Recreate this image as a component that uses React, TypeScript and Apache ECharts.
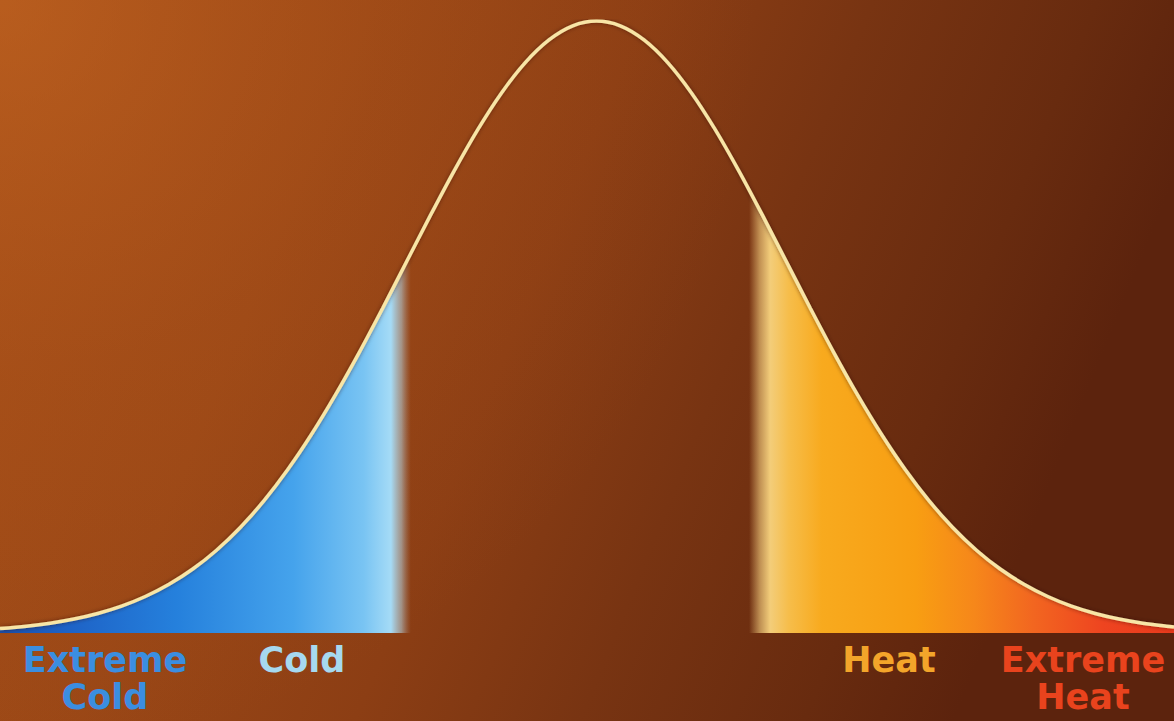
import React, { useEffect, useRef } from "react";
import * as echarts from "echarts";

// Standardized temperature (in standard deviations from the mean)
const xValues = [
  -3.14, -3, -2.875, -2.75, -2.625, -2.5, -2.375, -2.25, -2.125, -2, -1.875, -1.75, -1.625, -1.5, -1.375, -1.25, -1.125, -1,
  -0.875, -0.75, -0.625, -0.5, -0.375, -0.25, -0.125, 0, 0.125, 0.25, 0.375, 0.5, 0.625, 0.75, 0.875,
  1, 1.125, 1.25, 1.375, 1.5, 1.625, 1.75, 1.875, 2, 2.125, 2.25, 2.375, 2.5, 2.625, 2.75, 2.875, 3, 3.04,
];
// Relative frequency (peak = 1)
const frequency = [
  0.0072, 0.0111, 0.016, 0.0228, 0.0319, 0.0439, 0.0596, 0.0796, 0.1046, 0.1353, 0.1724, 0.2163, 0.2671, 0.3247, 0.3886, 0.4578, 0.5311, 0.6065,
  0.6819, 0.7548, 0.8226, 0.8825, 0.9321, 0.9692, 0.9922, 1.0, 0.9922, 0.9692, 0.9321, 0.8825, 0.8226, 0.7548, 0.6819,
  0.6065, 0.5311, 0.4578, 0.3886, 0.3247, 0.2671, 0.2163, 0.1724, 0.1353, 0.1046, 0.0796, 0.0596, 0.0439, 0.0319, 0.0228, 0.016, 0.0111, 0.0099,
];

const labels = [
  { text: "Extreme\nCold", x: 105, color: "#3b8ee0" },
  { text: "Cold", x: 302, color: "#a6d9ef" },
  { text: "Heat", x: 889, color: "#f3a52a" },
  { text: "Extreme\nHeat", x: 1083, color: "#e9431d" },
];

export default function App() {
  const ref = useRef<HTMLDivElement>(null);
  useEffect(() => {
    if (!ref.current) return;
    const chart = echarts.init(ref.current, undefined, { renderer: "svg" });
    const data = xValues.map((x, i) => [x, frequency[i]]);
    chart.setOption({
      animation: false,
      backgroundColor: {
        type: "linear", x: 0, y: 0, x2: 1, y2: 0.25,
        colorStops: [
          { offset: 0, color: "#a54e18" },
          { offset: 0.3, color: "#9a4716" },
          { offset: 0.52, color: "#8c3e14" },
          { offset: 0.7, color: "#783412" },
          { offset: 0.88, color: "#682b0f" },
          { offset: 1, color: "#5c230d" },
        ],
      },
      grid: { left: 0, right: 0, top: 21, bottom: 88 },
      xAxis: {
        type: "value", min: -3.14, max: 3.04,
        axisLine: { show: true, onZero: false, lineStyle: { color: "#ecc274", width: 4, shadowColor: "rgba(40,10,0,0.6)", shadowBlur: 4, shadowOffsetY: 2 } },
        axisTick: { show: false }, axisLabel: { show: false }, splitLine: { show: false },
      },
      yAxis: {
        type: "value", min: 0, max: 1,
        axisLine: { show: false }, axisTick: { show: false }, axisLabel: { show: false }, splitLine: { show: false },
      },
      series: [
        {
          type: "line",
          data,
          smooth: 0.3,
          symbol: "none",
          z: 3,
          lineStyle: { color: "#f8e5a6", width: 3.5, shadowColor: "rgba(50,15,0,0.55)", shadowBlur: 4 },
          areaStyle: {
            opacity: 1,
            color: {
              type: "linear", x: 0, y: 0, x2: 1, y2: 0,
              colorStops: [
                { offset: 0, color: "#1a50ad" },
                { offset: 0.06, color: "#1e63c7" },
                { offset: 0.15, color: "#2580dc" },
                { offset: 0.25, color: "#45a3ec" },
                { offset: 0.31, color: "#79c4f3" },
                { offset: 0.333, color: "#a5dbf6" },
                { offset: 0.342, color: "rgba(175,200,210,0.6)" },
                { offset: 0.35, color: "rgba(170,150,140,0)" },
                { offset: 0.638, color: "rgba(240,200,130,0)" },
                { offset: 0.647, color: "rgba(242,205,125,0.6)" },
                { offset: 0.656, color: "#f3cd7a" },
                { offset: 0.672, color: "#f6bd4a" },
                { offset: 0.7, color: "#f8aa1e" },
                { offset: 0.78, color: "#f89e12" },
                { offset: 0.83, color: "#f6871a" },
                { offset: 0.88, color: "#f26620" },
                { offset: 0.94, color: "#ee4420" },
                { offset: 1, color: "#ea3a1c" },
              ],
            },
          },
        },
      ],
      graphic: [
        {
          type: "rect",
          z: 0,
          silent: true,
          shape: { x: 0, y: 0, width: 760, height: 760 },
          style: {
            fill: {
              type: "radial", x: 0, y: 0, r: 1,
              colorStops: [
                { offset: 0, color: "rgba(200,105,35,0.55)" },
                { offset: 0.5, color: "rgba(190,95,30,0.18)" },
                { offset: 1, color: "rgba(180,90,30,0)" },
              ],
            },
          },
        },
        ...labels.map((l) => ({
          type: "text",
          x: l.x,
          y: 641,
          z: 10,
          style: {
            text: l.text,
            fill: l.color,
            font: "bold 35px 'DejaVu Sans'",
            align: "center",
            verticalAlign: "top",
            lineHeight: 37,
          },
        })),
      ],
    });
    return () => chart.dispose();
  }, []);
  return <div ref={ref} style={{ position: "absolute", left: 0, top: 0, width: 1174, height: 721 }} />;
}
